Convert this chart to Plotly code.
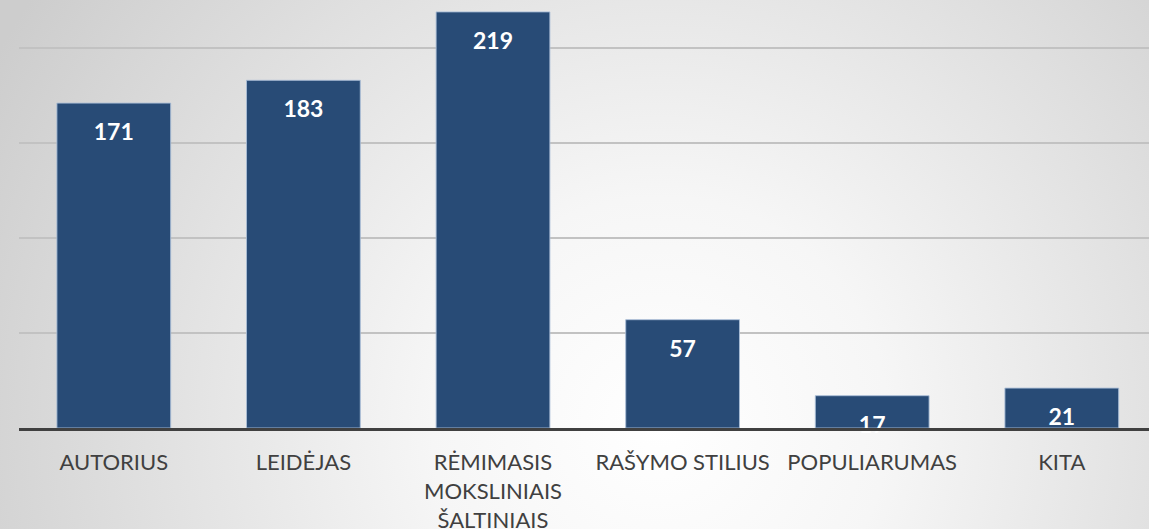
import base64
import plotly.graph_objects as go

categories = ["AUTORIUS", "LEIDĖJAS", "RĖMIMASIS<br>MOKSLINIAIS<br>ŠALTINIAIS",
              "RAŠYMO STILIUS", "POPULIARUMAS", "KITA"]
values = [171, 183, 219, 57, 17, 21]
value_labels = [str(v) for v in values]

W, H = 1149, 529
ML, MR, MT, MB = 19, 0, 0, 101
pw, ph = W - ML - MR, H - MT - MB

svg = (f"<svg xmlns='http://www.w3.org/2000/svg' width='{W}' height='{H}'>"
       "<defs><radialGradient id='g' cx='660' cy='425' r='760' gradientUnits='userSpaceOnUse'>"
       "<stop offset='0' stop-color='#ffffff'/><stop offset='0.3' stop-color='#f6f6f6'/>"
       "<stop offset='1' stop-color='#cdcdcd'/></radialGradient></defs>"
       f"<rect width='{W}' height='{H}' fill='url(#g)'/></svg>")
bg = "data:image/svg+xml;base64," + base64.b64encode(svg.encode()).decode()

fig = go.Figure()
fig.add_trace(go.Bar(
    x=list(range(len(categories))), y=values,
    marker=dict(color="#284b76", line=dict(color="rgba(170,190,215,0.9)", width=1)),
    width=0.6, hoverinfo="skip",
))
fig.add_trace(go.Scatter(
    x=list(range(len(categories))), y=values, mode="markers+text",
    text=value_labels, textposition="bottom center",
    marker=dict(size=30, color="rgba(0,0,0,0)"),
    textfont=dict(family="Lato", size=23, color="white", weight="bold"),
    cliponaxis=False, hoverinfo="skip",
))

fig.update_layout(
    width=W, height=H, autosize=False,
    margin=dict(l=ML, r=MR, t=MT, b=MB, autoexpand=False),
    paper_bgcolor="#e6e6e6", plot_bgcolor="rgba(0,0,0,0)",
    showlegend=False,
    images=[dict(source=bg, xref="paper", yref="paper",
                 x=-ML / pw, y=1 + MT / ph, sizex=W / pw, sizey=H / ph,
                 xanchor="left", yanchor="top", sizing="stretch", layer="below")],
    xaxis=dict(
        tickmode="array", tickvals=list(range(len(categories))), ticktext=categories,
        range=[-0.5, -0.5 + pw / 189.6],
        showgrid=False, zeroline=False, automargin=False,
        showline=True, linecolor="#404040", linewidth=3,
        ticks="", ticklabelstandoff=13,
        tickfont=dict(family="Lato", size=22, color="#404040"),
    ),
    yaxis=dict(
        range=[0, 428 / 1.9], tickvals=[50, 100, 150, 200], automargin=False,
        showticklabels=False, showgrid=True, gridcolor="#c2c2c2", gridwidth=1.5,
        zeroline=False, showline=False,
    ),
)

fig.write_html(
    "out.html",
    config={"displayModeBar": False, "responsive": False},
    post_script="document.body.style.margin='0';document.body.style.overflow='hidden';"
                "document.documentElement.style.overflow='hidden';",
)
